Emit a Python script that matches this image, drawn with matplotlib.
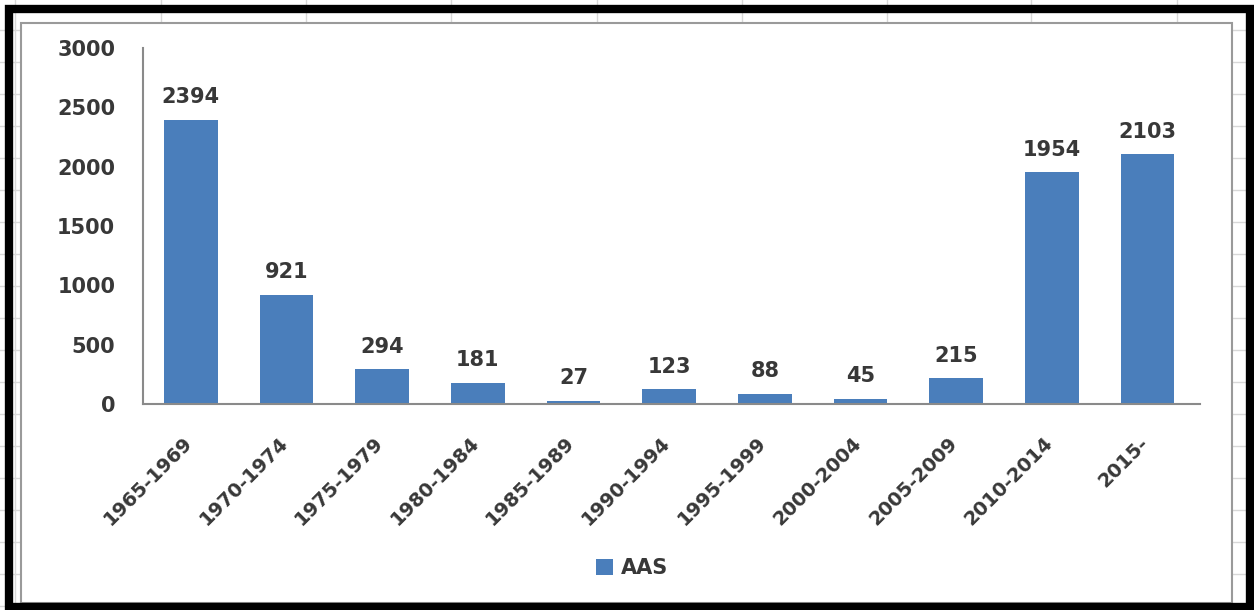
import matplotlib
matplotlib.use("Agg")
import matplotlib.pyplot as plt
from matplotlib.lines import Line2D
from matplotlib.patches import Rectangle
from matplotlib.transforms import ScaledTranslation

periodos = ["1965-1969", "1970-1974", "1975-1979", "1980-1984", "1985-1989",
            "1990-1994", "1995-1999", "2000-2004", "2005-2009", "2010-2014", "2015-"]
aas = [2394, 921, 294, 181, 27, 123, 88, 45, 215, 1954, 2103]
serie = "AAS"

W, H = 1254, 610
azul = "#4A7EBB"
texto = "#383838"

plt.rcParams["font.weight"] = "bold"


def px(x, y):
    # pixel (origem no topo) -> coordenadas da figura
    return x / W, 1 - y / H


fig = plt.figure(figsize=(W / 100, H / 100), dpi=100)
fig.patch.set_facecolor("white")

# grade da planilha por tras do grafico
for gx in [15, 161, 306, 451, 597, 742, 887, 1031, 1177]:
    x0, _ = px(gx, 0)
    fig.add_artist(Line2D([x0, x0], [0, 1], color="#d8d8d8", lw=1, zorder=-3))
for gy in range(30, 610, 32):
    _, y0 = px(0, gy)
    fig.add_artist(Line2D([0, 1], [y0, y0], color="#d8d8d8", lw=1, zorder=-3))

# area do grafico
x0, y1 = px(21, 23)
x1, y0 = px(1232, 603)
fig.add_artist(Rectangle((x0, y0), x1 - x0, y1 - y0, transform=fig.transFigure,
                         facecolor="white", edgecolor="#9a9a9a", lw=1.5, zorder=-2))

l, t = px(143, 48)
r, b = px(1200, 404)
ax = fig.add_axes([l, b, r - l, t - b])
ax.set_facecolor("none")

barras = ax.bar(range(len(aas)), aas, width=0.56, color=azul, label=serie)
ax.bar_label(barras, padding=9, fontsize=15, color=texto)

ax.set_xlim(-0.5, len(aas) - 0.5 + 0.05)
ax.set_ylim(0, 3000)
ax.set_yticks(range(0, 3001, 500))
ax.set_xticks(range(len(aas)))
ax.set_xticklabels(periodos, rotation=45, ha="right", fontsize=14, color=texto)
ax.tick_params(axis="y", length=0, pad=20, labelsize=15, labelcolor=texto)
ax.tick_params(axis="x", length=0, pad=21)
desloc = ScaledTranslation(5 / 100, 0, fig.dpi_scale_trans)
for lab in ax.get_xticklabels():
    lab.set_transform(lab.get_transform() + desloc)

for lado in ["top", "right"]:
    ax.spines[lado].set_visible(False)
for lado in ["left", "bottom"]:
    ax.spines[lado].set_color("#8a8a8a")
    ax.spines[lado].set_linewidth(1.5)

fig.legend(loc="center", bbox_to_anchor=px(632, 568), frameon=False,
           fontsize=15, handlelength=0.8, handleheight=0.8, handletextpad=0.4,
           labelcolor=texto)

# moldura preta da captura
bx0, by1 = px(9, 9)
bx1, by0 = px(1250, 607)
fig.add_artist(Rectangle((bx0, by0), bx1 - bx0, by1 - by0, transform=fig.transFigure,
                         facecolor="none", edgecolor="black", lw=6, zorder=10))

fig.savefig("out.png", dpi=100)
